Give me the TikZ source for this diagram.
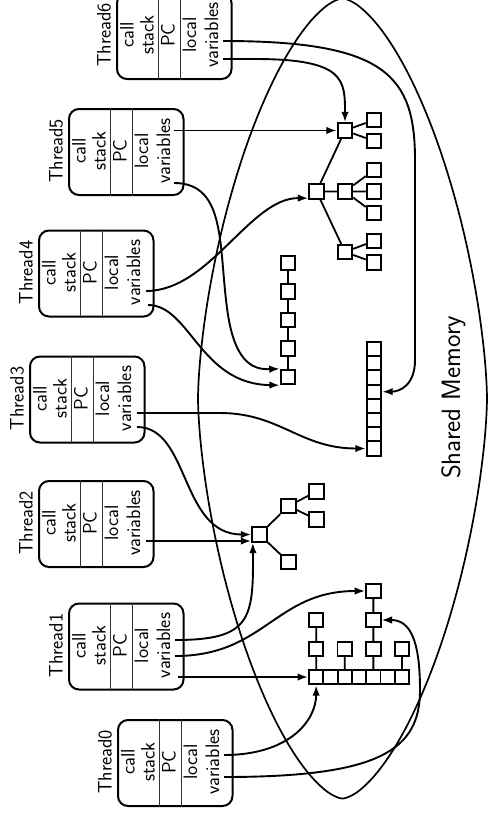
\documentclass[tikz,border=0pt]{standalone}
\usepackage{fontspec}
\usetikzlibrary{arrows.meta,calc}
\newcommand\threadbox[4]{%
  \node[tbox] (#1) at (#2,#3) {};
  \draw[sepline] ($(#1.north west)+(42.5,0)$) -- ($(#1.south west)+(42.5,0)$);
  \draw[sepline] ($(#1.north west)+(64.5,0)$) -- ($(#1.south west)+(64.5,0)$);
  \node[rtxt] (#1lab) at (#2-5.5,#3+43) {Thread#4};
  \node[rtxt] (#1call) at (#2+17.5,#3+43) {call};
  \node[rtxt] (#1stack) at (#2+37.5,#3+43) {stack};
  \node[rtxt] (#1pc) at (#2+58.5,#3+43) {PC};
  \node[rtxt] (#1loc) at (#2+80,#3+43) {local};
  \node[rtxt] (#1var) at (#2+102,#3+43) {variables};
}
\begin{document}
\begin{tikzpicture}[x=1pt,y=-1pt,
  every node/.style={font=\sffamily\fontsize{19.5}{21.5}\selectfont},
  tbox/.style={draw, line width=2pt, rounded corners=10pt, minimum width=114.5pt, minimum height=86pt, inner sep=0pt, anchor=north west},
  sepline/.style={line width=1.1pt, black!80},
  rtxt/.style={rotate=90, anchor=base, inner sep=0pt},
  sq/.style={draw, line width=1.9pt, minimum size=14.5pt, inner sep=0pt},
  cellv/.style={draw, line width=1.9pt, minimum width=14.5pt, minimum height=14.2pt, inner sep=0pt},
  cellh/.style={draw, line width=1.9pt, minimum width=14.3pt, minimum height=14.5pt, inner sep=0pt},
  link/.style={line width=1.8pt},
  ptr/.style={line width=1.9pt, -{Latex[length=10.5pt,width=7.5pt]}},
  outline/.style={line width=1.7pt}
]
\useasboundingbox (0,0) rectangle (488,814);
\clip (0,0) rectangle (488,814);

% shared memory outline
\draw[outline] plot[domain=1:361, samples=181, variable=\t]
  ({342.5+144.5*sign(cos(\t))*abs(cos(\t))^1.25}, {398.5+400*sign(sin(\t))*abs(sin(\t))^1.25}) -- cycle;
\node[rotate=90, anchor=base, inner sep=0pt, font=\sffamily\fontsize{26.5}{30}\selectfont] (shm) at (460,397.5) {Shared Memory};

% threads
\threadbox{t0}{117}{719}{0}
\threadbox{t1}{68}{602.5}{1}
\threadbox{t2}{38}{480}{2}
\threadbox{t3}{29}{355.5}{3}
\threadbox{t4}{38}{229.5}{4}
\threadbox{t5}{68}{108}{5}
\threadbox{t6}{116}{-8}{6}

% pointer origins
\coordinate (s0a) at (224,755);
\coordinate (s0b) at (224,777);
\coordinate (s1a) at (175,640);
\coordinate (s1b) at (175,656);
\coordinate (s1c) at (178,677);
\coordinate (s2a) at (146,541);
\coordinate (s3a) at (137,413);
\coordinate (s3b) at (137,427);
\coordinate (s4a) at (146,291);
\coordinate (s4b) at (148,305);
\coordinate (s5a) at (174,130.5);
\coordinate (s5b) at (174,183);
\coordinate (s6a) at (223,41);
\coordinate (s6b) at (223,59);

% top-right tree
\node[sq] (A) at (345,130.5) {};
\node[sq] (a1) at (374,120) {};
\node[sq] (a2) at (374,141) {};
\node[sq] (B) at (316.5,191.5) {};
\node[sq] (C) at (345,191.5) {};
\node[sq] (D) at (345,252) {};
\node[sq] (c1) at (374,170) {};
\node[sq] (c2) at (374,191.5) {};
\node[sq] (c3) at (374,213) {};
\node[sq] (d1) at (374,241) {};
\node[sq] (d2) at (374,262.5) {};
\draw[link] (A) -- (a1) (A) -- (a2) (B) -- (A) (B) -- (C) (B) -- (D)
  (C) -- (c1) (C) -- (c2) (C) -- (c3) (D) -- (d1) (D) -- (d2);

% linked list
\foreach \i/\y in {1/263,2/291.5,3/320,4/348.5,5/377}
  \node[sq] (L\i) at (288,\y) {};
\draw[link] (L1) -- (L2) -- (L3) -- (L4) -- (L5);

% small tree
\node[sq] (E) at (259.5,534.5) {};
\node[sq] (F) at (288.5,506) {};
\node[sq] (G) at (288.5,562) {};
\node[sq] (f1) at (316.5,491.5) {};
\node[sq] (f2) at (316.5,519.5) {};
\draw[link] (E) -- (F) (E) -- (G) (F) -- (f1) (F) -- (f2);

% vertical array
\foreach \i in {1,...,8}
  \node[cellv] (v\i) at (374,{342+7.1+14.2*(\i-1)}) {};

% horizontal array with hanging nodes
\foreach \i in {1,...,7}
  \node[cellh] (h\i) at ({309+7.15+14.3*(\i-1)},677) {};
\node[sq] (p1) at (316.15,649) {};
\node[sq] (q1) at (316.15,620) {};
\node[sq] (p3) at (344.75,649) {};
\node[sq] (p5) at (373.35,649) {};
\node[sq] (q5) at (373.35,620) {};
\node[sq] (r5) at (373.35,591) {};
\node[sq] (p7) at (401.95,649) {};
\draw[link] (h1) -- (p1) -- (q1) (h3) -- (p3) (h5) -- (p5) -- (q5) -- (r5) (h7) -- (p7);

% pointers
\draw[ptr] (s6a) .. controls (385,41) and (415,75) .. (415,160) -- (415,360) .. controls (415,385) and (400,391.6) .. (v4.east);
\draw[ptr] (s6b) -- (255,59) .. controls (345,59) and (345,80) .. (A.north);
\draw[ptr] (s5a) -- (A.west);
\draw[ptr] (s5b) .. controls (228,183) and (218,250) .. (228,315) .. controls (236,365) and (255,369.75) .. (L5.north west);
\draw[ptr] (s4a) .. controls (210,291) and (250,197.5) .. ($(B.south west)+(0,-1.5)$);
\draw[ptr] (s4b) .. controls (190,305) and (200,384.25) .. (L5.south west);
\draw[ptr] (s3a) -- (220,413) .. controls (280,413) and (300,448.5) .. (v8.west);
\draw[ptr] (s3b) .. controls (190,427) and (180,534.5) .. (E.west);
\draw[ptr] (s2a) -- (s2a -| E.west);
\draw[ptr] (s1a) .. controls (250,640) and (253.75,620) .. ($(E.south west)+(1.5,0)$);
\draw[ptr] (s1b) .. controls (265,656) and (275,591) .. (r5.west);
\draw[ptr] (s1c) -- (s1c -| h1.west);
\draw[ptr] (s0a) .. controls (290,755) and (316.15,720) .. (h1.south);
\draw[ptr] (s0b) .. controls (380,777) and (420,750) .. (420,690) .. controls (420,640) and (410,620) .. (q5.east);
\end{tikzpicture}
\end{document}
